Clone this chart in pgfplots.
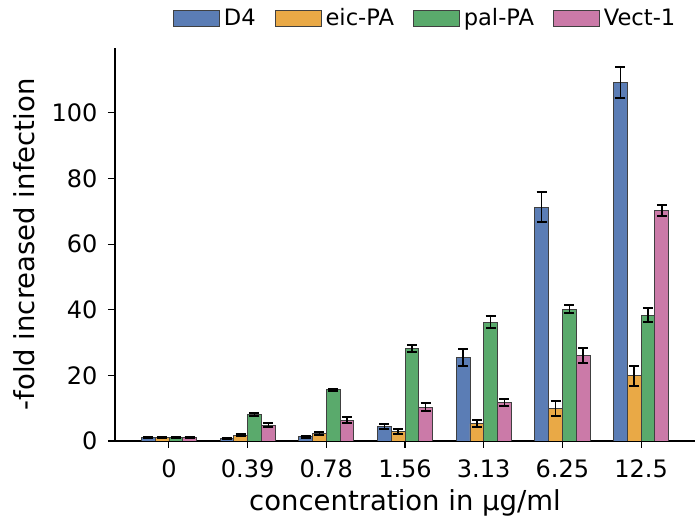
\documentclass[border=0pt]{standalone}
\usepackage{pgfplots}
\pgfplotsset{compat=1.18}
\usepackage{fontspec}
\setmainfont{DejaVu Sans}

\definecolor{cD}{HTML}{5B7DB5}
\definecolor{cE}{HTML}{E9A946}
\definecolor{cP}{HTML}{5AAA6C}
\definecolor{cV}{HTML}{CB7AA8}

% x  y  err
\pgfplotstableread{
x y e
0 1.0 0.15
1 0.8 0.15
2 1.3 0.3
3 4.4 0.7
4 25.4 2.6
5 71.3 4.6
6 109.2 4.7
}\dfour
\pgfplotstableread{
x y e
0 1.0 0.15
1 1.7 0.3
2 2.3 0.4
3 2.9 0.7
4 5.3 1.0
5 10.0 2.3
6 19.9 3.0
}\eic
\pgfplotstableread{
x y e
0 1.0 0.15
1 8.0 0.5
2 15.6 0.4
3 28.3 1.1
4 36.2 1.9
5 40.2 1.2
6 38.4 2.0
}\pal
\pgfplotstableread{
x y e
0 1.0 0.15
1 4.8 0.6
2 6.3 0.9
3 10.3 1.3
4 11.7 1.1
5 26.1 2.2
6 70.3 1.6
}\vect

\begin{document}
\begin{tikzpicture}
\useasboundingbox (-115pt,-77pt) rectangle (580pt,441pt);
\begin{axis}[
    scale only axis,
    width=580pt, height=393pt,
    ybar=0pt,
    bar width=13.77pt,
    xmin=-0.685, xmax=6.685,
    ymin=0, ymax=119.8,
    xtick=data,
    xticklabels={0,0.39,0.78,1.56,3.13,6.25,12.5},
    ytick={0,20,40,60,80,100},
    axis x line*=bottom,
    axis y line*=left,
    axis line style={line width=1.2pt, -},
    tick align=outside,
    major tick length=7pt,
    tick style={line width=1.1pt, black},
    ticklabel style={font=\fontsize{24}{28}\selectfont},
    xticklabel style={yshift=-8pt},
    yticklabel style={xshift=-7pt},
    /pgf/number format/assume math mode=true,
    xlabel={concentration in µg/ml},
    ylabel={-fold increased infection},
    label style={font=\fontsize{27.5}{32}\selectfont},
    xlabel style={yshift=-5pt},
    ylabel style={yshift=10pt},
    every axis plot/.append style={draw=black!75, line width=0.8pt},
    error bars/y dir=both,
    error bars/y explicit,
    error bars/error mark options={rotate=90, mark size=5pt, line width=2pt, black},
    error bars/error bar style={line width=1.5pt, black},
    legend columns=4,
    legend cell align=left,
    legend style={draw=none, fill=none, at={(55pt,423pt)}, anchor=west,
        font=\fontsize{22.6}{26}\selectfont,
        nodes={inner xsep=4pt, inner ysep=1pt},
        /tikz/every even column/.append style={column sep=15pt}},
    legend image code/.code={\draw[#1] (0pt,-8pt) rectangle (46pt,8pt);},
]
\addplot[fill=cD] table[x=x, y=y, y error=e] {\dfour};
\addplot[fill=cE] table[x=x, y=y, y error=e] {\eic};
\addplot[fill=cP] table[x=x, y=y, y error=e] {\pal};
\addplot[fill=cV] table[x=x, y=y, y error=e] {\vect};
\legend{D4, eic-PA, pal-PA, Vect-1}
\end{axis}
\end{tikzpicture}
\end{document}
